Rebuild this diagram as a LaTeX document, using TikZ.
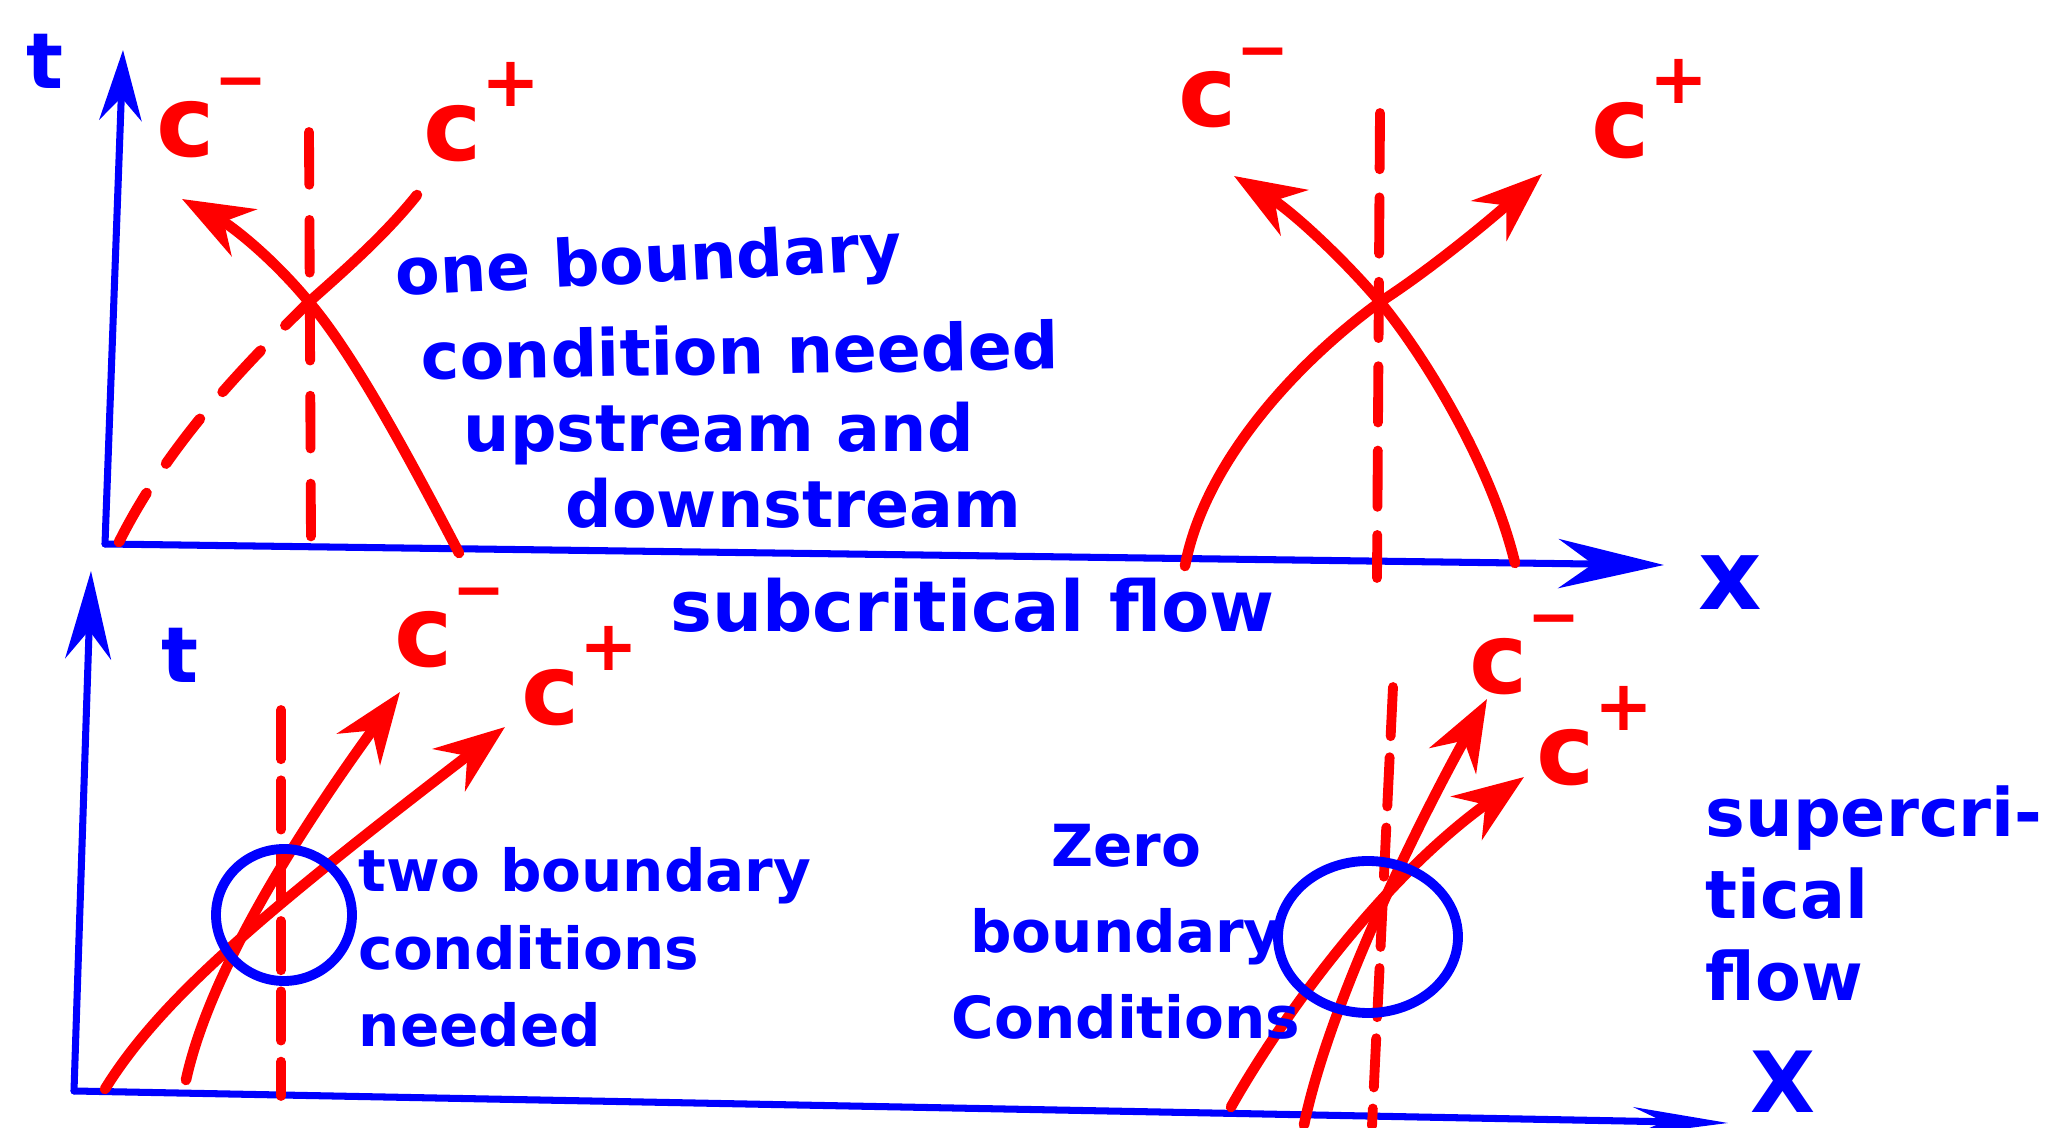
\documentclass[tikz,border=0pt]{standalone}
\usepackage{fontspec}
\setmainfont{DejaVu Sans}
\usetikzlibrary{arrows.meta,positioning}

\newcommand{\cmin}{c\raisebox{.55em}{\fontsize{18}{18}\selectfont −}}
\newcommand{\cpls}{c\raisebox{.55em}{\fontsize{20}{20}\selectfont +}}

\begin{document}
\begin{tikzpicture}[x=0.01cm,y=-0.01cm,
axisline/.style={blue,line width=2pt,line cap=round},
charline/.style={red,line width=3pt,line cap=round,line join=round},
chararrow/.style={charline,-{Stealth[length=20pt,width=15pt]}},
chardash/.style={charline,dash pattern=on 16pt off 10pt},
vline/.style={red,line width=2.8pt,line cap=round,dash pattern=on 15pt off 10pt},
ring/.style={blue,line width=2.8pt},
note/.style={blue,font=\fontsize{18.5}{22}\selectfont\bfseries,inner sep=0pt,anchor=base west},
block/.style={blue,font=\fontsize{16.5}{22}\selectfont\bfseries,inner sep=0pt},
cname/.style={red,font=\fontsize{28}{30}\selectfont\bfseries,inner sep=0pt},
axname/.style={blue,font=\fontsize{22}{24}\selectfont\bfseries,inner sep=0pt}]
\useasboundingbox (0,0) rectangle (2056,1128);

% subcritical
\coordinate (o1) at (105,544);
\coordinate (t1) at (123,50);
\coordinate (x1) at (1664,565);
\coordinate (ka) at (309,302);
\coordinate (kb) at (1380,302);
\draw[axisline,-{Stealth[length=20pt,width=12pt]}] (o1) -- (t1);
\draw[axisline,-{Stealth[length=30pt,width=14pt]}] (o1) -- (x1);
\node[axname] (tt1) at (45,61) {t};
\node[axname,font=\fontsize{28}{30}\selectfont\bfseries] (xx1) at (1730,583) {x};

\draw[vline] (309,132) -- (311,540);
\draw[chararrow] (459,553) .. controls (400,440) and (350,350) .. (ka) .. controls (270,255) and (230,225) .. (182,199);
\draw[chardash] (119,542) .. controls (170,440) and (250,360) .. (ka);
\draw[charline] (ka) .. controls (345,270) and (385,235) .. (417,195);
\node[cname] (cm1) at (212,118) {\cmin};
\node[cname] (cp1) at (482,112) {\cpls};

\draw[vline,dash pattern=on 16pt off 8pt] (1380,113) -- (1377,578);
\draw[chararrow] (1185,566) .. controls (1205,460) and (1300,360) .. (kb) .. controls (1430,270) and (1490,220) .. (1542,174);
\draw[chararrow] (1515,563) .. controls (1490,460) and (1420,350) .. (kb) .. controls (1340,255) and (1290,210) .. (1234,176);
\node[cname] (cm2) at (1234,88) {\cmin};
\node[cname] (cp2) at (1650,109) {\cpls};

\node[note,rotate=3] (n1) at (396,296) {one boundary};
\node[note,rotate=1] (n2) at (421,380) {condition needed};
\node[note] (n3) at (463,452) {upstream and};
\node[note] (n4) at (565,528) {downstream};
\node[note,font=\fontsize{20}{24}\selectfont\bfseries] (sub) at (670,632) {subcritical flow};

% supercritical
\coordinate (o2) at (74,1091);
\coordinate (t2) at (91,571);
\coordinate (x2) at (1728,1123);
\draw[axisline,-{Stealth[length=25pt,width=13pt]}] (o2) -- (t2);
\draw[axisline,-{Stealth[length=27pt,width=8pt]}] (o2) -- (x2);
\node[axname] (tt2) at (180,655) {t};
\node[axname,font=\fontsize{24}{26}\selectfont\bfseries] (xx2) at (1783,1082) {X};

\draw[vline,dash pattern=on 14pt off 6pt] (281,710) -- (281,1096);
\draw[chararrow] (105,1089) .. controls (160,1000) and (260,915) .. (505,727);
\draw[chararrow] (186,1080) .. controls (210,970) and (300,830) .. (400,692);
\draw[ring] (284,915) ellipse [x radius=68, y radius=66];
\node[cname] (cm3) at (450,628) {\cmin};
\node[cname] (cp3) at (580,676) {\cpls};
\node[block,align=left,anchor=north west] (n5) at (358,847) {two boundary\\conditions\\needed};

\draw[vline,dash pattern=on 14pt off 6pt] (1393,687) -- (1372,1126);
\draw[chararrow] (1231,1107) .. controls (1280,1020) and (1380,880) .. (1524,777);
\draw[chararrow] (1304,1125) .. controls (1330,1000) and (1420,820) .. (1487,699);
\draw[ring] (1368,937) ellipse [x radius=90, y radius=76];
\node[cname] (cm4) at (1525,655) {\cmin};
\node[cname] (cp4) at (1595,736) {\cpls};
\node[block,align=center,anchor=north,font=\fontsize{16.5}{24.5}\selectfont\bfseries] (n6) at (1126,823) {Zero\\boundary\\Conditions};
\node[block,align=left,anchor=north west,font=\fontsize{19}{23.3}\selectfont\bfseries] (n7) at (1705,785) {supercri-\\tical\\flow};
\end{tikzpicture}
\end{document}
